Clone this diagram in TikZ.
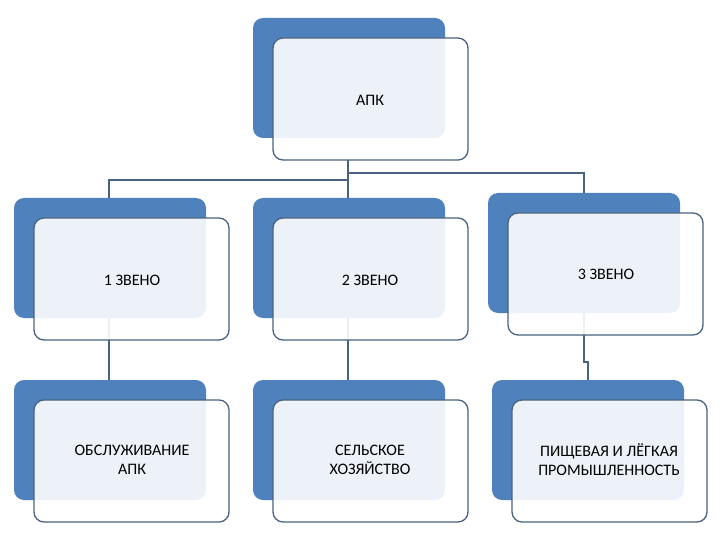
\documentclass[tikz,border=0pt]{standalone}
\usepackage{fontspec}
\setmainfont{Carlito}
\begin{document}
\begin{tikzpicture}[x=1pt,y=-1pt,
  back/.style={fill={rgb,255:red,79;green,129;blue,189},draw=none,rounded corners=10pt},
  front/.style={fill=white,fill opacity=0.9,draw={rgb,255:red,72;green,98;blue,128},line width=1.3pt,rounded corners=10pt,text opacity=1},
  lbl/.style={font=\fontsize{16}{19}\selectfont,align=center,text=black},
  conn/.style={draw={rgb,255:red,72;green,98;blue,128},line width=1.2pt}]
\useasboundingbox (0,0) rectangle (720,540);
% connectors
\coordinate (t) at (348,160);
\coordinate (tl) at (348,180);
\coordinate (tr) at (348,173);
\coordinate (l1) at (109,180);
\coordinate (r1) at (584,173);
\draw[conn] (t) -- (348,198);
\draw[conn] (tl) -- (l1) -- (109,198);
\draw[conn] (tr) -- (r1) -- (584,193);
\draw[conn] (109,318) -- (109,380);
\draw[conn] (348,318) -- (348,380);
\draw[conn] (584,313) -- (584,362) -- (588,362) -- (588,380);
% boxes
\newcommand{\mybox}[5]{%
  \fill[back] (#1,#2) rectangle ++(192,120);
  \path[front] (#1+20,#2+20) rectangle ++(195,122);
  \node[lbl] (#5) at (#1+#3,#2+#4) {};
}
\mybox{253}{18}{117}{82}{apk}
\mybox{14}{198}{118}{82}{z1}
\mybox{253}{198}{117}{82}{z2}
\mybox{488}{193}{118}{81}{z3}
\mybox{14}{380}{118}{80}{o1}
\mybox{253}{380}{117}{80}{o2}
\mybox{492}{380}{117}{80}{o3}
\node[lbl] at (apk) {АПК};
\node[lbl] at (z1) {1 ЗВЕНО};
\node[lbl] at (z2) {2 ЗВЕНО};
\node[lbl] at (z3) {3 ЗВЕНО};
\node[lbl] at (o1) {ОБСЛУЖИВАНИЕ\\АПК};
\node[lbl] at (o2) {СЕЛЬСКОЕ\\ХОЗЯЙСТВО};
\node[lbl] at (o3) {ПИЩЕВАЯ И ЛЁГКАЯ\\ПРОМЫШЛЕННОСТЬ};
\end{tikzpicture}
\end{document}
